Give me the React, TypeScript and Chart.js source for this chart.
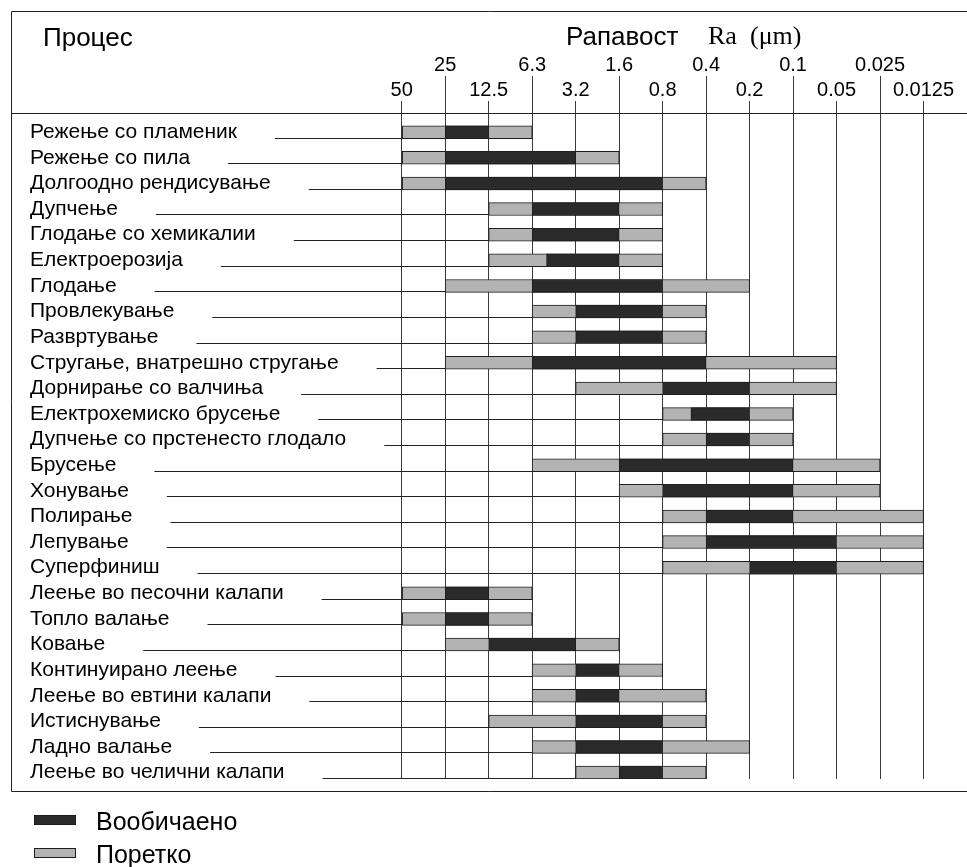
import React, { useEffect, useRef } from 'react';
import { Chart, registerables } from 'chart.js';

Chart.register(...registerables);

const processes = [
  'Режење со пламеник',
  'Режење со пила',
  'Долгоодно рендисување',
  'Дупчење',
  'Глодање со хемикалии',
  'Електроерозија',
  'Глодање',
  'Провлекување',
  'Развртување',
  'Стругање, внатрешно стругање',
  'Дорнирање со валчиња',
  'Електрохемиско брусење',
  'Дупчење со прстенесто глодало',
  'Брусење',
  'Хонување',
  'Полирање',
  'Лепување',
  'Суперфиниш',
  'Леење во песочни калапи',
  'Топло валање',
  'Ковање',
  'Континуирано леење',
  'Леење во евтини калапи',
  'Истиснување',
  'Ладно валање',
  'Леење во челични калапи',
];

// Ra tick labels (µm); the x axis uses the column index 0..12
const roughnessLabels = ['50', '25', '12.5', '6.3', '3.2', '1.6', '0.8', '0.4', '0.2', '0.1', '0.05', '0.025', '0.0125'];

// "Поретко" (rare) range, in column index units
const rareStart = [0, 0, 0, 2, 2, 2, 1, 3, 3, 1, 4, 6, 6, 3, 5, 6, 6, 6, 0, 0, 1, 3, 3, 2, 3, 4];
const rareEnd = [3, 5, 7, 6, 6, 6, 8, 7, 7, 10, 10, 9, 9, 11, 11, 12, 12, 12, 3, 3, 5, 6, 7, 7, 8, 7];
// "Вообичаено" (usual) range, in column index units
const usualStart = [1, 1, 1, 3, 3, 3.33, 3, 4, 4, 3, 6, 6.65, 7, 5, 6, 7, 7, 8, 1, 1, 2, 4, 4, 4, 4, 5];
const usualEnd = [2, 4, 6, 5, 5, 5, 6, 6, 6, 7, 8, 8, 8, 9, 9, 9, 10, 10, 2, 2, 4, 5, 5, 6, 6, 6];

const SANS = '"Liberation Sans", Arial, Helvetica, sans-serif';
const SERIF = '"Liberation Serif", "Times New Roman", serif';
const DARK = '#2a2a2a';
const GREY = '#b3b3b3';
const EDGE = '#1e1e1e';
const LINE = '#222222';
const GRID = '#3a3a3a';
const LABEL_SIZE = 21;

export default function App() {
  const ref = useRef<HTMLCanvasElement | null>(null);

  useEffect(() => {
    const canvas = ref.current;
    if (!canvas) return;

    const align = (v: number) => Math.round(v - 0.5) + 0.5;

    const decorations = {
      id: 'decorations',
      afterDatasetsDraw(chart: any) {
        const ctx = chart.ctx as CanvasRenderingContext2D;
        const xs = chart.scales.x;
        const ys = chart.scales.y;
        const area = chart.chartArea;
        ctx.save();
        ctx.strokeStyle = GRID;
        ctx.lineWidth = 1;
        // tick marks reaching up to the two label rows
        xs.ticks.forEach((t: any, i: number) => {
          const px = align(xs.getPixelForValue(t.value));
          const top = i % 2 === 1 ? 76 : 101;
          ctx.beginPath();
          ctx.moveTo(px, top);
          ctx.lineTo(px, area.top);
          ctx.stroke();
        });
        // leader lines from each label to its bar
        ctx.strokeStyle = LINE;
        ctx.font = `${LABEL_SIZE}px ${SANS}`;
        const meta = chart.getDatasetMeta(2);
        meta.data.forEach((el: any, i: number) => {
          const p = el.getProps(['x', 'base', 'y', 'height'], true);
          const barStart = Math.min(p.x, p.base);
          const ly = align(p.y + p.height / 2 - 0.5);
          const tw = ctx.measureText(processes[i]).width;
          const lx = ys.left + tw + 38;
          ctx.beginPath();
          ctx.moveTo(lx, ly);
          ctx.lineTo(barStart, ly);
          ctx.stroke();
        });
        ctx.restore();
      },
      afterDraw(chart: any) {
        const ctx = chart.ctx as CanvasRenderingContext2D;
        const W = chart.width;
        ctx.save();
        ctx.strokeStyle = LINE;
        ctx.lineWidth = 1;
        // frame and header separator
        ctx.beginPath();
        ctx.moveTo(W, 11.5);
        ctx.lineTo(11.5, 11.5);
        ctx.lineTo(11.5, 791.5);
        ctx.lineTo(W, 791.5);
        ctx.moveTo(11, 113.5);
        ctx.lineTo(W, 113.5);
        ctx.stroke();

        // header texts
        ctx.fillStyle = '#000';
        ctx.textBaseline = 'alphabetic';
        ctx.textAlign = 'left';
        ctx.font = `26px ${SANS}`;
        ctx.fillText('Процес', 43, 46);
        ctx.fillText('Рапавост', 566, 45);
        ctx.font = `26px ${SERIF}`;
        ctx.fillText('Ra', 708, 44);
        ctx.fillText('(\u03BCm)', 750, 44);

        // legend
        const items = [
          { label: 'Вообичаено', color: DARK, y: 815, base: 830 },
          { label: 'Поретко', color: GREY, y: 848, base: 863 },
        ];
        ctx.font = `25px ${SANS}`;
        items.forEach((it) => {
          ctx.fillStyle = it.color;
          ctx.fillRect(34, it.y, 42, 10);
          ctx.strokeStyle = EDGE;
          ctx.strokeRect(34.5, it.y + 0.5, 41, 9);
          ctx.fillStyle = '#000';
          ctx.fillText(it.label, 96, it.base);
        });
        ctx.restore();
      },
    };

    const chart = new Chart(canvas, {
      type: 'bar',
      data: {
        labels: processes,
        datasets: [
          {
            label: '_pad',
            data: processes.map(() => null),
            stack: 'pad',
            order: -1,
            backgroundColor: 'rgba(0,0,0,0)',
            barPercentage: 1,
            categoryPercentage: 1,
          } as any,
          {
            label: 'Вообичаено',
            data: usualStart.map((s, i) => [s, usualEnd[i]]),
            stack: 'bars',
            order: 0,
            backgroundColor: DARK,
            borderColor: EDGE,
            borderWidth: 1,
            borderSkipped: false,
            barPercentage: 1,
            categoryPercentage: 1,
          },
          {
            label: 'Поретко',
            data: rareStart.map((s, i) => [s, rareEnd[i]]),
            stack: 'bars',
            order: 1,
            backgroundColor: GREY,
            borderColor: EDGE,
            borderWidth: 1,
            borderSkipped: false,
            barPercentage: 1,
            categoryPercentage: 1,
          },
        ],
      },
      options: {
        indexAxis: 'y',
        animation: false,
        responsive: false,
        maintainAspectRatio: false,
        layout: { padding: { left: 30, top: 0, right: 0, bottom: 88 } },
        plugins: {
          legend: { display: false },
          tooltip: { enabled: false },
        },
        scales: {
          x: {
            type: 'linear',
            position: 'top',
            stacked: false,
            min: -0.5,
            max: 13,
            afterBuildTicks: (scale: any) => {
              scale.ticks = roughnessLabels.map((_, i) => ({ value: i }));
            },
            afterFit: (scale: any) => {
              scale.height = 113;
            },
            ticks: {
              autoSkip: false,
              maxRotation: 0,
              minRotation: 0,
              padding: 10,
              color: '#000',
              font: { family: SANS, size: 20, lineHeight: 1.25 },
              callback: (v: any) => {
                const i = Math.round(Number(v));
                const lab = roughnessLabels[i] ?? '';
                return i % 2 === 1 ? [lab, ''] : ['', lab];
              },
            },
            grid: {
              color: GRID,
              lineWidth: 1,
              drawTicks: false,
              drawOnChartArea: true,
            },
            border: { display: false },
          },
          y: {
            type: 'category',
            afterFit: (scale: any) => {
              scale.width = 350;
            },
            ticks: {
              autoSkip: false,
              crossAlign: 'far',
              color: '#000',
              font: { family: SANS, size: LABEL_SIZE, lineHeight: 12.8 / LABEL_SIZE },
              callback: function (this: any, v: any) {
                return ['', processes[Number(v)]];
              },
            },
            grid: { display: false },
            border: { display: false },
          },
        },
      },
      plugins: [decorations],
    } as any);

    return () => chart.destroy();
  }, []);

  return (
    <div style={{ position: 'fixed', left: 0, top: 0, width: 967, height: 867, background: '#fff' }}>
      <canvas ref={ref} width={967} height={867} style={{ width: 967, height: 867, display: 'block' }} />
    </div>
  );
}
